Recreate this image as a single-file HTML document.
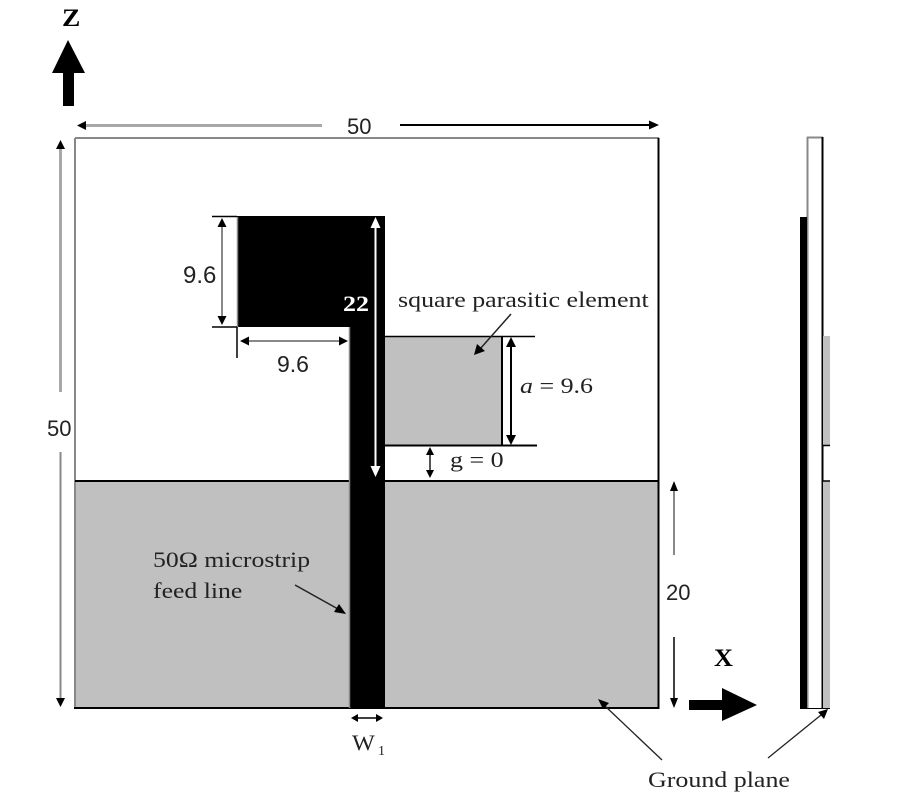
<!DOCTYPE html>
<html><head><meta charset="utf-8"><style>
html,body{margin:0;padding:0;background:#fff;}
svg{display:block;}
.sans{font-family:"Liberation Sans",sans-serif;}
.serif{font-family:"Liberation Serif",serif;}
</style></head><body>
<svg width="900" height="800" viewBox="0 0 900 800" xmlns="http://www.w3.org/2000/svg">
<rect width="900" height="800" fill="#fff"/>
<!-- Z axis -->
<text transform="translate(62,26) scale(1.1,1)" class="serif" font-size="25" font-weight="bold" fill="#000">Z</text>
<polygon points="68,40 85,73 52,73" fill="#000"/>
<rect x="63" y="72" width="11" height="34" fill="#000"/>

<!-- top 50 dimension -->
<line x1="84" y1="125.5" x2="322" y2="125.5" stroke="#a8a8a8" stroke-width="3"/>
<polygon points="77,125.5 86,121 86,130" fill="#000"/>
<text x="347" y="134" class="sans" font-size="22" fill="#222">50</text>
<line x1="400" y1="125" x2="650" y2="125" stroke="#000" stroke-width="2"/>
<polygon points="659,125 649,120.5 649,129.5" fill="#000"/>

<!-- left 50 dimension -->
<line x1="60.5" y1="148" x2="60.5" y2="392" stroke="#a8a8a8" stroke-width="3"/>
<line x1="60.5" y1="452" x2="60.5" y2="700" stroke="#888" stroke-width="2"/>
<polygon points="60.5,140 56,149 65,149" fill="#000"/>
<polygon points="60.5,707 56,698 65,698" fill="#000"/>
<text x="47" y="436" class="sans" font-size="22" fill="#222">50</text>

<!-- board -->
<rect x="75" y="481" width="583" height="227" fill="#c0c0c0"/>
<line x1="75" y1="138" x2="659" y2="138" stroke="#888" stroke-width="2"/>
<line x1="75" y1="138" x2="75" y2="708" stroke="#888" stroke-width="2"/>
<line x1="658.5" y1="138" x2="658.5" y2="709" stroke="#000" stroke-width="2"/>
<line x1="74" y1="708" x2="659" y2="708" stroke="#000" stroke-width="2"/>
<line x1="75" y1="481" x2="659" y2="481" stroke="#000" stroke-width="2"/>

<!-- parasitic square -->
<rect x="385" y="336" width="117" height="110" fill="#c0c0c0"/>
<line x1="385" y1="336.5" x2="535" y2="336.5" stroke="#000" stroke-width="1.5"/>
<line x1="385" y1="445.5" x2="537" y2="445.5" stroke="#000" stroke-width="2"/>
<line x1="502" y1="336" x2="502" y2="446" stroke="#000" stroke-width="2"/>

<!-- radiator & feed -->
<rect x="237" y="216" width="148" height="111" fill="#000"/>
<rect x="349" y="216" width="36" height="493" fill="#000"/>
<line x1="349.5" y1="327" x2="349.5" y2="708" stroke="#888" stroke-width="1.5"/>
<line x1="237.5" y1="217" x2="237.5" y2="327" stroke="#888" stroke-width="1.5"/>

<!-- 9.6 vertical -->
<line x1="212" y1="216.5" x2="237" y2="216.5" stroke="#000" stroke-width="1.5"/>
<line x1="212" y1="327" x2="237" y2="327" stroke="#000" stroke-width="1.5"/>
<line x1="222" y1="226" x2="222" y2="318" stroke="#888" stroke-width="2"/>
<polygon points="222,218 217.5,227 226.5,227" fill="#000"/>
<polygon points="222,325 217.5,316 226.5,316" fill="#000"/>
<text x="183" y="283" class="sans" font-size="24" fill="#222">9.6</text>

<!-- 9.6 horizontal -->
<line x1="237" y1="327" x2="237" y2="358" stroke="#000" stroke-width="1.5"/>
<line x1="248" y1="341" x2="340" y2="341" stroke="#888" stroke-width="2"/>
<polygon points="240,341 249,336.5 249,345.5" fill="#000"/>
<polygon points="348,341 339,336.5 339,345.5" fill="#000"/>
<text x="277" y="372" class="sans" font-size="23" fill="#222">9.6</text>

<!-- 22 arrow (white) -->
<line x1="375.5" y1="225" x2="375.5" y2="470" stroke="#fff" stroke-width="2"/>
<polygon points="375.5,217 370.5,228 380.5,228" fill="#fff"/>
<polygon points="375.5,477 370.5,466 380.5,466" fill="#fff"/>
<text transform="translate(343,311) scale(1.18,1)" class="serif" font-size="22" font-weight="bold" fill="#fff">22</text>

<!-- a = 9.6 -->
<line x1="511" y1="345" x2="511" y2="437" stroke="#000" stroke-width="2"/>
<polygon points="511,337 506,347 516,347" fill="#000"/>
<polygon points="511,445 506,435 516,435" fill="#000"/>
<text transform="translate(520,393) scale(1.18,1)" class="serif" font-size="22" fill="#222"><tspan font-style="italic">a</tspan> = 9.6</text>

<!-- square parasitic element -->
<text transform="translate(398,307) scale(1.18,1)" class="serif" font-size="22" fill="#222">square parasitic element</text>
<line x1="511" y1="314" x2="480" y2="349" stroke="#222" stroke-width="1.5"/>
<polygon points="474,355 477,344 485,351" fill="#000"/>

<!-- g = 0 -->
<line x1="430" y1="453" x2="430" y2="472" stroke="#555" stroke-width="2"/>
<polygon points="430,447 426,455 434,455" fill="#000"/>
<polygon points="430,478 426,470 434,470" fill="#000"/>
<text transform="translate(450,467) scale(1.18,1)" class="serif" font-size="22" fill="#222">g = 0</text>

<!-- 50 ohm feed label -->
<text transform="translate(153,567) scale(1.17,1)" class="serif" font-size="22" fill="#222">50Ω microstrip</text>
<text transform="translate(153,598) scale(1.17,1)" class="serif" font-size="22" fill="#222">feed line</text>
<line x1="295" y1="585" x2="338" y2="609" stroke="#222" stroke-width="1.5"/>
<polygon points="346,614 334,612 339,604" fill="#000"/>

<!-- 20 dimension -->
<line x1="674" y1="490" x2="674" y2="555" stroke="#888" stroke-width="2"/>
<polygon points="674,481 670,491 678,491" fill="#000"/>
<text x="666" y="600" class="sans" font-size="22" fill="#222">20</text>
<line x1="674" y1="637" x2="674" y2="700" stroke="#000" stroke-width="1.5"/>
<polygon points="674,708 670,698 678,698" fill="#000"/>

<!-- X axis -->
<text transform="translate(714,666) scale(1.05,1)" class="serif" font-size="25" font-weight="bold" fill="#000">X</text>
<rect x="689" y="700" width="34" height="10" fill="#000"/>
<polygon points="722,688 757,705 722,721" fill="#000"/>

<!-- W1 -->
<line x1="357" y1="718" x2="377" y2="718" stroke="#000" stroke-width="1.5"/>
<polygon points="351,718 358,714 358,722" fill="#000"/>
<polygon points="383,718 376,714 376,722" fill="#000"/>
<text transform="translate(352,750) scale(1.1,1)" class="serif" font-size="22" fill="#222">W</text>
<text x="378" y="755" class="serif" font-size="14" fill="#222">1</text>

<!-- side view -->
<rect x="807" y="137" width="16" height="572" fill="#fff"/>
<line x1="807" y1="137.5" x2="823" y2="137.5" stroke="#888" stroke-width="2"/>
<line x1="807.5" y1="137" x2="807.5" y2="708" stroke="#888" stroke-width="2"/>
<line x1="822.5" y1="137" x2="822.5" y2="709" stroke="#000" stroke-width="2"/>
<rect x="800" y="217" width="7" height="492" fill="#000"/>
<rect x="823" y="336" width="7" height="110" fill="#c0c0c0"/>
<line x1="823" y1="445.5" x2="830" y2="445.5" stroke="#000" stroke-width="1.5"/>
<rect x="823" y="481" width="7" height="228" fill="#c0c0c0"/>
<line x1="823" y1="481" x2="830" y2="481" stroke="#000" stroke-width="1.5"/>
<line x1="800" y1="708.5" x2="830" y2="708.5" stroke="#000" stroke-width="1"/>

<!-- Ground plane label -->
<text transform="translate(648,787) scale(1.18,1)" class="serif" font-size="22" fill="#222">Ground plane</text>
<line x1="662" y1="760" x2="605" y2="706" stroke="#222" stroke-width="1.3"/>
<polygon points="598,699 609,703 603,709" fill="#000"/>
<line x1="768" y1="758" x2="821" y2="715" stroke="#222" stroke-width="1.3"/>
<polygon points="828,709 824,719 818,712" fill="#000"/>
</svg>
</body></html>
